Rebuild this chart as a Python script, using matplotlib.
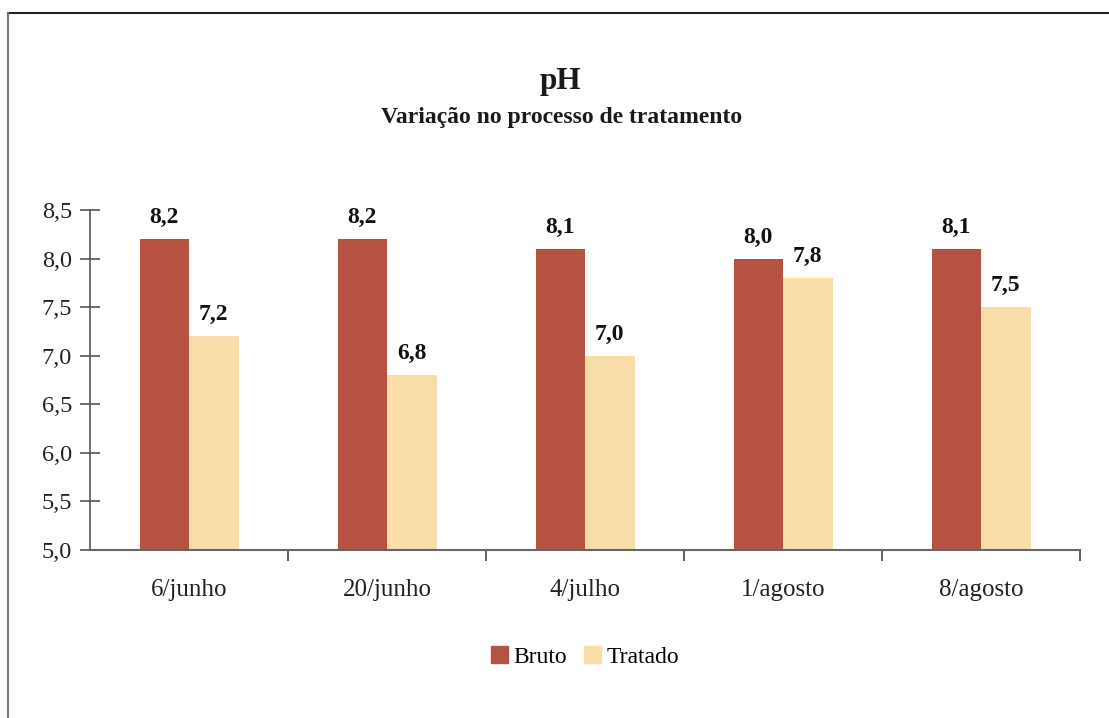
import numpy as np
import matplotlib.pyplot as plt
from matplotlib.lines import Line2D
from matplotlib.patches import Patch

# dados
datas = ["6/junho", "20/junho", "4/julho", "1/agosto", "8/agosto"]
bruto = [8.2, 8.2, 8.1, 8.0, 8.1]
tratado = [7.2, 6.8, 7.0, 7.8, 7.5]
yticks = [5.0, 5.5, 6.0, 6.5, 7.0, 7.5, 8.0, 8.5]

cor_bruto = "#B55241"
cor_tratado = "#F8DDA8"

plt.rcParams['font.family'] = ['Liberation Serif', 'DejaVu Serif']

W, H = 1109, 718
fig = plt.figure(figsize=(W / 100, H / 100), dpi=100)
ax = fig.add_axes([90 / W, 1 - 550 / H, (1080 - 90) / W, (550 - 210) / H])

x = np.arange(len(datas))
w = 0.25
b1 = ax.bar(x - w / 2, bruto, w, bottom=0, color=cor_bruto, label="Bruto")
b2 = ax.bar(x + w / 2, tratado, w, bottom=0, color=cor_tratado, label="Tratado")

for bars, vals in ((b1, bruto), (b2, tratado)):
    for r, v in zip(bars, vals):
        ax.annotate(f"{v:.1f}".replace(".", ","), (r.get_x() + r.get_width() / 2, v),
                    xytext=(0, 8), textcoords="offset points", ha="center", va="bottom",
                    fontsize=17, fontweight="bold", color="#111111")

ax.set_xlim(-0.5, len(datas) - 0.5)
ax.set_ylim(5.0, 8.5)
ax.set_yticks(yticks)
ax.set_yticklabels([f"{t:.1f}".replace(".", ",") for t in yticks], fontsize=17.5, color="#222222")
ax.tick_params(axis="y", direction="inout", length=14, width=1.2, color="#555555", pad=6)

# categorias: rótulos no centro, traços nas fronteiras
ax.set_xticks(x)
ax.set_xticklabels(datas, fontsize=18, color="#222222")
ax.tick_params(axis="x", length=0, pad=21)
ax.set_xticks(np.arange(0.5, len(datas), 1.0), minor=True)
ax.tick_params(axis="x", which="minor", direction="out", length=8, width=1.2, color="#444444")

for s in ("top", "right"):
    ax.spines[s].set_visible(False)
ax.spines["left"].set_color("#555555")
ax.spines["left"].set_linewidth(1.2)
ax.spines["bottom"].set_color("#666666")
ax.spines["bottom"].set_linewidth(1.5)

fig.text(560 / W, 1 - 82 / H, "pH", ha="center", va="center", fontsize=22.5, fontweight="bold", color="#1a1a1a")
fig.text(562 / W, 1 - 117 / H, "Variação no processo de tratamento", ha="center", va="center",
         fontsize=17, fontweight="bold", color="#1a1a1a")

handles = [Patch(color=cor_bruto), Patch(color=cor_tratado)]
fig.legend(handles, ["Bruto", "Tratado"], loc="center", bbox_to_anchor=(585 / W, 1 - 657 / H),
           ncol=2, frameon=False, fontsize=17, handlelength=0.72, handleheight=0.72,
           handletextpad=0.25, columnspacing=0.7)

# moldura
fig.add_artist(Line2D([8 / W, 1], [1 - 13 / H, 1 - 13 / H], color="#222222", lw=1.5))
fig.add_artist(Line2D([8 / W, 8 / W], [0, 1 - 13 / H], color="#777777", lw=1.5))

fig.savefig("out.png", dpi=100)
